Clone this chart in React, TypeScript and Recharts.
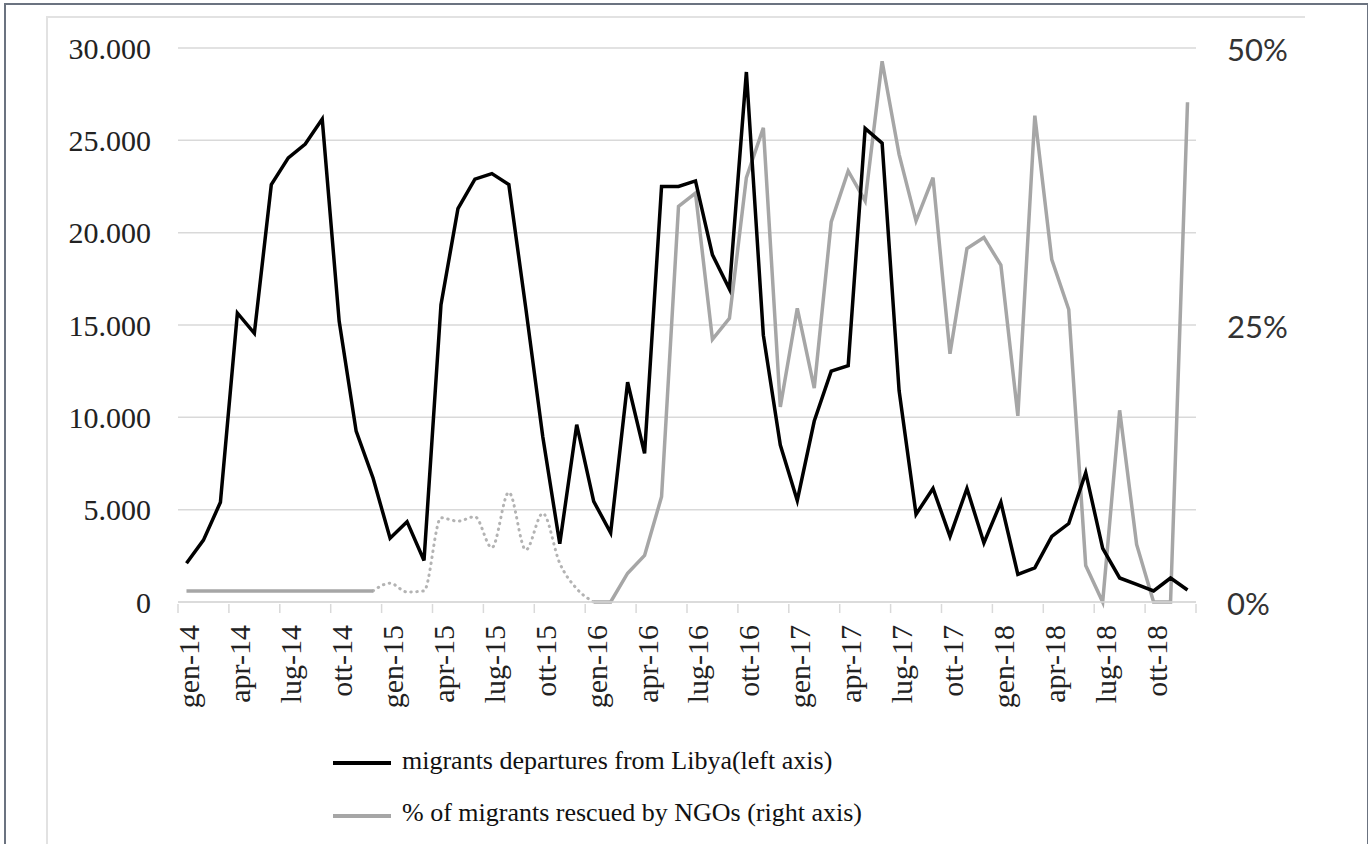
import React from 'react';
import { LineChart, Line, XAxis, YAxis, CartesianGrid } from 'recharts';

// month labels (Italian) gen-14 ... dic-18
const monthNames = ['gen', 'feb', 'mar', 'apr', 'mag', 'giu', 'lug', 'ago', 'set', 'ott', 'nov', 'dic'];
const years = ['14', '15', '16', '17', '18'];
const months = years.flatMap((y) => monthNames.map((m) => `${m}-${y}`));

// migrants departures from Libya (left axis)
const departures = [
  2100, 3350, 5400, 15650, 14550, 22600, 24050, 24800, 26150, 15200, 9250, 6700,
  3450, 4350, 2250, 16100, 21300, 22900, 23200, 22600, 15900, 8950, 3150, 9600,
  5450, 3750, 11900, 8050, 22500, 22500, 22800, 18800, 16950, 28700, 14450, 8500,
  5500, 9800, 12500, 12800, 25650, 24850, 11450, 4750, 6150, 3550, 6150, 3200,
  5400, 1500, 1850, 3550, 4250, 7000, 2900, 1300, 950, 600, 1300, 650,
];

// % of migrants rescued by NGOs (right axis)
const ngoShare = [
  1.0, 1.0, 1.0, 1.0, 1.0, 1.0, 1.0, 1.0, 1.0, 1.0, 1.0, 1.0,
  1.7, 0.9, 1.0, 7.6, 7.3, 7.7, 4.9, 9.9, 4.7, 8.0, 3.5, 1.2,
  0, 0, 2.6, 4.2, 9.5, 35.7, 36.9, 23.7, 25.6, 38.3, 42.8, 17.6,
  26.5, 19.3, 34.3, 38.9, 36.2, 48.8, 40.4, 34.4, 38.3, 22.4, 31.9, 32.9,
  30.4, 16.8, 43.9, 30.9, 26.4, 3.3, 0, 17.3, 5.2, 0, 0, 45.1,
];

// months where the NGO series is an estimate (dotted)
const dottedFrom = 11;
const dottedTo = 24;

const leftTicks = [0, 5000, 10000, 15000, 20000, 25000, 30000];
const rightTicks = [0, 25, 50];

const data = months.map((m, i) => ({
  month: m,
  departures: departures[i],
  ngoSolid: i <= dottedFrom || i >= dottedTo ? ngoShare[i] : null,
  ngoDotted: i >= dottedFrom && i <= dottedTo ? ngoShare[i] : null,
}));

const W = 1368;
const H = 844;
const PLOT_L = 178;
const PLOT_R = 1196;
const PLOT_T = 48;
const PLOT_B = 602;
const BAND = (PLOT_R - PLOT_L) / months.length;

const serif = '"Liberation Serif", "Times New Roman", serif';
const gridColor = '#d9d9d9';

function MonthTick(props: any) {
  const { x, y, index, payload } = props;
  const show = index % 3 === 0;
  const last = index === months.length - 1;
  const ly = y + 21;
  return (
    <g>
      {show && (
        <line x1={x - BAND / 2} x2={x - BAND / 2} y1={y} y2={y + 9} stroke={gridColor} strokeWidth={1.5} />
      )}
      {last && (
        <line x1={x + BAND / 2} x2={x + BAND / 2} y1={y} y2={y + 9} stroke={gridColor} strokeWidth={1.5} />
      )}
      {show && (
        <text
          x={x}
          y={ly}
          dy={13}
          transform={`rotate(-90, ${x}, ${ly})`}
          textAnchor="end"
          fontFamily={serif}
          fontSize={30}
          fill="#222"
        >
          {payload.value}
        </text>
      )}
    </g>
  );
}

const fmtLeft = (v: number) => (v === 0 ? '0' : `${v / 1000}.000`);

export default function App() {
  return (
    <div style={{ position: 'absolute', left: 0, top: 0, width: W, height: H, background: '#fff', overflow: 'hidden' }}>
      {/* frame */}
      <div style={{ position: 'absolute', left: 4, top: 3, width: 1361, height: 860, borderLeft: '2px solid #6b7380', borderTop: '2px solid #6b7380', borderRight: '2px solid #6b7380' }} />
      <div style={{ position: 'absolute', left: 46, top: 16, width: 1257, height: 860, borderLeft: '2px solid #e2e2e2', borderTop: '2px solid #e2e2e2' }} />

      <div style={{ position: 'absolute', left: 0, top: 0 }}>
        <LineChart
          width={W}
          height={H}
          data={data}
          margin={{ top: PLOT_T, left: PLOT_L - 100, right: W - PLOT_R - 100, bottom: H - PLOT_B - 120 }}
        >
          <CartesianGrid yAxisId="left" vertical={false} stroke={gridColor} strokeWidth={1.5} />
          <XAxis
            dataKey="month"
            interval={0}
            height={120}
            padding={{ left: BAND / 2, right: BAND / 2 }}
            tickSize={0}
            tickLine={false}
            axisLine={{ stroke: gridColor, strokeWidth: 1.5 }}
            tick={<MonthTick />}
          />
          <YAxis
            yAxisId="left"
            width={100}
            domain={[0, 30000]}
            ticks={leftTicks}
            tickFormatter={fmtLeft}
            axisLine={false}
            tickLine={false}
            tickSize={0}
            tickMargin={27}
            tick={{ fontFamily: serif, fontSize: 30, fill: '#222' }}
          />
          <YAxis
            yAxisId="right"
            orientation="right"
            width={100}
            domain={[0, 50]}
            ticks={rightTicks}
            tickFormatter={(v: number) => `${v}%`}
            axisLine={false}
            tickLine={false}
            tickSize={0}
            tickMargin={31}
            tick={{ fontFamily: 'Lato, "DejaVu Sans", sans-serif', fontSize: 31, fill: '#333', dy: 2 }}
          />
          <Line
            yAxisId="right"
            dataKey="ngoDotted"
            type="monotone"
            stroke="#b3b3b3"
            strokeWidth={3}
            strokeDasharray="0.5 5.5"
            strokeLinecap="round"
            dot={false}
            activeDot={false}
            isAnimationActive={false}
          />
          <Line
            yAxisId="right"
            dataKey="ngoSolid"
            name="% of migrants rescued by NGOs (right axis)"
            type="linear"
            stroke="#a6a6a6"
            strokeWidth={3.5}
            dot={false}
            activeDot={false}
            isAnimationActive={false}
          />
          <Line
            yAxisId="left"
            dataKey="departures"
            name="migrants departures from Libya(left axis)"
            type="linear"
            stroke="#000"
            strokeWidth={3.5}
            dot={false}
            activeDot={false}
            isAnimationActive={false}
          />
        </LineChart>
      </div>

      {/* legend */}
      <div style={{ position: 'absolute', left: 333, top: 761, width: 58, height: 4, background: '#000' }} />
      <div style={{ position: 'absolute', left: 402, top: 748, fontFamily: serif, fontSize: 26, lineHeight: '26px', color: '#111', whiteSpace: 'nowrap' }}>
        migrants departures from Libya(left axis)
      </div>
      <div style={{ position: 'absolute', left: 333, top: 814, width: 58, height: 4, background: '#a6a6a6' }} />
      <div style={{ position: 'absolute', left: 402, top: 800, fontFamily: serif, fontSize: 26, lineHeight: '26px', color: '#111', whiteSpace: 'nowrap' }}>
        % of migrants rescued by NGOs (right axis)
      </div>
    </div>
  );
}
